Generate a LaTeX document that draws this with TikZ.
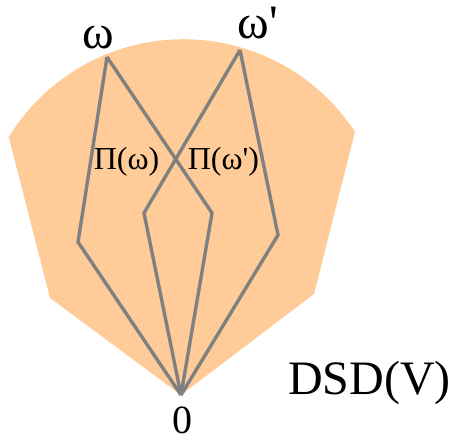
\documentclass[tikz,border=0pt]{standalone}
\usepackage{fontspec}
\setmainfont{Liberation Serif}
\definecolor{peach}{HTML}{FFCC99}
\definecolor{edgegray}{HTML}{808080}
\begin{document}
\begin{tikzpicture}[x=1pt,y=1pt,
  ray/.style={draw=edgegray,line width=3.4pt,line join=miter},
  lbl/.style={inner sep=0pt,text=black}]
\useasboundingbox (0,0) rectangle (453,441);
% region
\fill[peach] (9,303) -- (50,143) -- (181,46) -- (314,147) -- (355,309)
  arc[start angle=33.2,end angle=148.8,radius=205] -- cycle;
% points
\coordinate (W) at (107,384);
\coordinate (W2) at (240,391);
\coordinate (IL) at (144,228);
\coordinate (IR) at (212,228);
\coordinate (OL) at (78,199);
\coordinate (OR) at (278,206);
\coordinate (O) at (181,46);
\draw[ray] (W) -- (OL) -- (O);
\draw[ray] (W) -- (IR) -- (O);
\draw[ray] (W2) -- (OR) -- (O);
\draw[ray] (W2) -- (IL) -- (O);
% labels
\node[lbl,font=\fontsize{48}{48}\selectfont,anchor=base] (lw) at (98,392) {ω};
\node[lbl,font=\fontsize{48}{48}\selectfont,anchor=base] (lw2) at (258,402) {ω\textquotesingle};
\node[lbl,font=\fontsize{32}{32}\selectfont,anchor=base] (pw) at (126.5,271) {Π(ω)};
\node[lbl,font=\fontsize{32}{32}\selectfont,anchor=base] (pw2) at (223.5,271) {Π(ω\textquotesingle)};
\node[lbl,font=\fontsize{48}{48}\selectfont,anchor=base] (dsd) at (369.5,46) {DSD(V)};
\node[lbl,font=\fontsize{40}{40}\selectfont,anchor=base] (zero) at (182,7) {0};
\end{tikzpicture}
\end{document}
